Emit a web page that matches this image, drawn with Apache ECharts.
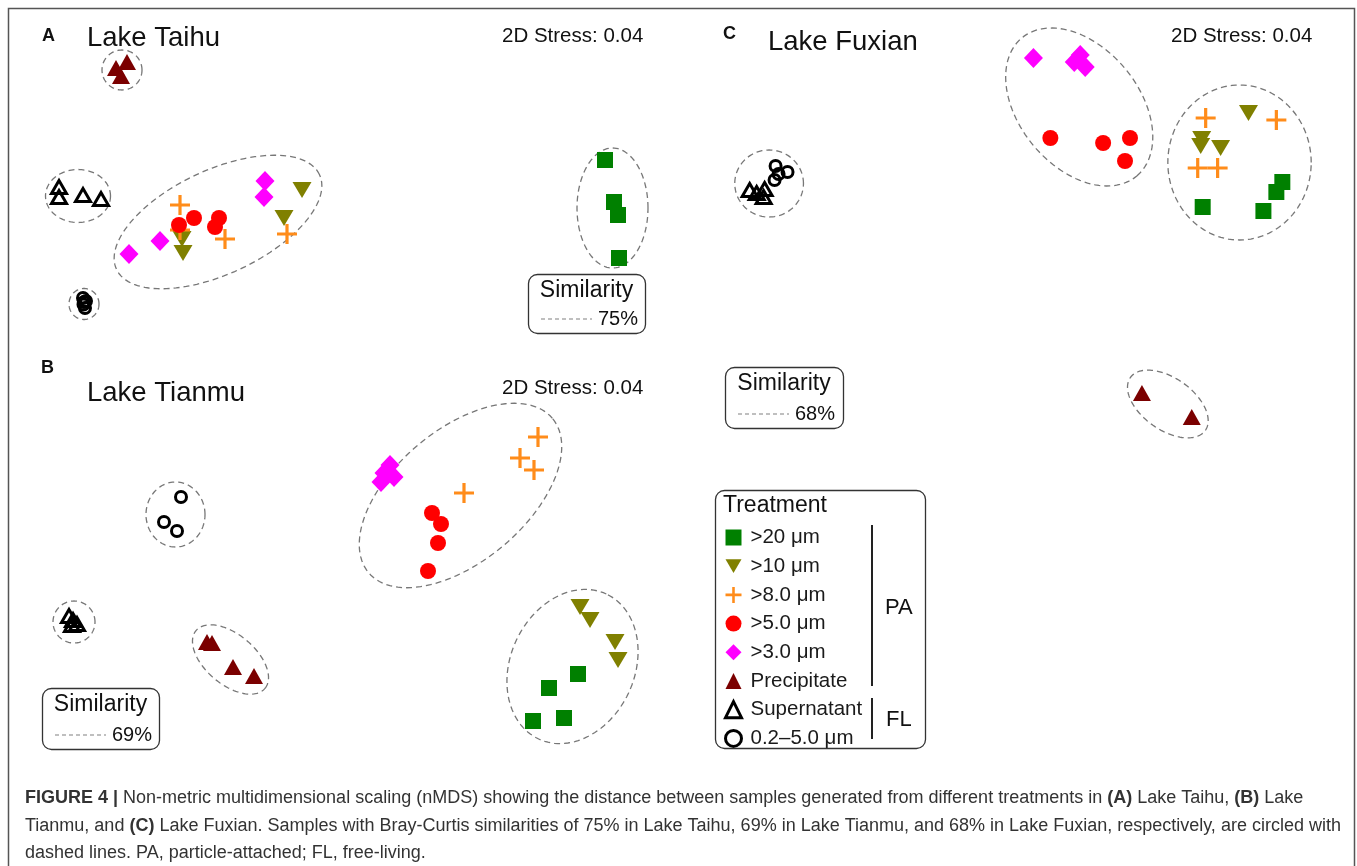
<!DOCTYPE html>
<html><head><meta charset="utf-8">
<script src="https://cdn.jsdelivr.net/npm/echarts@6/dist/echarts.min.js"></script>
<style>html,body{margin:0;padding:0;background:#fff}#c{width:1357px;height:866px}</style>
</head><body><div id="c"></div>
<script>
const treatments = ['>20 μm', '>10 μm', '>8.0 μm', '>5.0 μm', '>3.0 μm', 'Precipitate', 'Supernatant', '0.2–5.0 μm'];

// (A) Lake Taihu — nMDS coordinates [NMDS1, NMDS2]
const taihu_20  = [[2.65, 0.10], [2.74, -0.32], [2.78, -0.45], [2.79, -0.88]];
const taihu_10  = [[-0.38, -0.20], [-0.56, -0.48], [-1.58, -0.69], [-1.57, -0.83]];
const taihu_8   = [[-1.60, -0.35], [-1.60, -0.60], [-1.15, -0.69], [-0.53, -0.64]];
const taihu_5   = [[-1.61, -0.55], [-1.46, -0.48], [-1.21, -0.48], [-1.25, -0.57]];
const taihu_3   = [[-2.11, -0.84], [-1.80, -0.71], [-0.75, -0.11], [-0.76, -0.27]];
const taihu_pre = [[-2.24, 1.02], [-2.13, 1.08], [-2.19, 0.94]];
const taihu_sup = [[-2.81, -0.17], [-2.81, -0.27], [-2.57, -0.25], [-2.39, -0.29]];
const taihu_fl  = [[-2.57, -1.28], [-2.54, -1.31], [-2.565, -1.345], [-2.55, -1.38], [-2.56, -1.32]];
// similarity envelopes [cx, cy, semi-axis a, semi-axis b, angle deg]
const taihu_ellipses = [[-2.18, 1.00, 0.20, 0.20, 0], [-2.62, -0.26, 0.325, 0.265, 0], [-2.56, -1.34, 0.15, 0.155, 0], [-1.22, -0.52, 1.12, 0.52, 25], [2.725, -0.38, 0.355, 0.60, 0]];

// (B) Lake Tianmu
const tianmu_20  = [[2.38, -1.24], [2.09, -1.38], [2.24, -1.68], [1.93, -1.71]];
const tianmu_10  = [[2.40, -0.57], [2.50, -0.70], [2.75, -0.92], [2.78, -1.10]];
const tianmu_8   = [[1.98, 1.13], [1.80, 0.92], [1.94, 0.80], [1.24, 0.57]];
const tianmu_5   = [[0.92, 0.37], [1.01, 0.26], [0.98, 0.07], [0.88, -0.21]];
const tianmu_3   = [[0.50, 0.85], [0.44, 0.77], [0.54, 0.73], [0.41, 0.68]];
const tianmu_pre = [[-1.33, -0.92], [-1.28, -0.93], [-1.07, -1.17], [-0.86, -1.26]];
const tianmu_sup = [[-2.71, -0.66], [-2.67, -0.70], [-2.63, -0.74], [-2.68, -0.75]];
const tianmu_fl  = [[-1.59, 0.53], [-1.76, 0.28], [-1.63, 0.19]];
const tianmu_ellipses = [[-1.645, 0.355, 0.295, 0.325, 0], [-2.66, -0.72, 0.21, 0.21, 0], [-1.095, -1.095, 0.45, 0.25, -40], [1.205, 0.545, 1.20, 0.66, 40], [2.325, -1.165, 0.80, 0.62, 65]];

// (C) Lake Fuxian
const fuxian_20  = [[2.65, 1.98], [2.59, 1.88], [1.85, 1.73], [2.46, 1.69]];
const fuxian_10  = [[2.31, 2.67], [1.84, 2.41], [1.83, 2.34], [2.03, 2.32]];
const fuxian_8   = [[1.88, 2.62], [2.59, 2.60], [1.80, 2.12], [2.00, 2.12]];
const fuxian_5   = [[0.32, 2.42], [0.85, 2.37], [1.12, 2.42], [1.07, 2.19]];
const fuxian_3   = [[0.15, 3.22], [0.62, 3.25], [0.56, 3.18], [0.67, 3.13]];
const fuxian_pre = [[1.24, -0.13], [1.74, -0.37]];
const fuxian_sup = [[-2.70, 1.90], [-2.63, 1.87], [-2.55, 1.91], [-2.56, 1.83]];
const fuxian_fl  = [[-2.44, 2.14], [-2.41, 2.06], [-2.32, 2.08], [-2.45, 2.00]];
const fuxian_ellipses = [[0.61, 2.73, 0.90, 0.60, -50], [2.22, 2.175, 0.72, 0.775, 0], [-2.505, 1.965, 0.345, 0.335, 0], [1.50, -0.24, 0.46, 0.26, -35]];

const lakes = [
  { sets: [taihu_20, taihu_10, taihu_8, taihu_5, taihu_3, taihu_pre, taihu_sup, taihu_fl], ellipses: taihu_ellipses },
  { sets: [tianmu_20, tianmu_10, tianmu_8, tianmu_5, tianmu_3, tianmu_pre, tianmu_sup, tianmu_fl], ellipses: tianmu_ellipses },
  { sets: [fuxian_20, fuxian_10, fuxian_8, fuxian_5, fuxian_3, fuxian_pre, fuxian_sup, fuxian_fl], ellipses: fuxian_ellipses }
];

const FONT = '"Liberation Sans", Arial, Helvetica, sans-serif';
const PLUS = 'path://M-1.6,-10L1.6,-10L1.6,-1.6L10,-1.6L10,1.6L1.6,1.6L1.6,10L-1.6,10L-1.6,1.6L-10,1.6L-10,-1.6L-1.6,-1.6Z';
const DOWN = 'path://M0,0L20,0L10,17.3Z';
const styles = [
  { symbol: 'rect', size: [16, 16], item: { color: '#008000' } },
  { symbol: DOWN, size: [19, 16], item: { color: '#808000' } },
  { symbol: PLUS, size: [20, 20], item: { color: '#FF8C1A' } },
  { symbol: 'circle', size: 16, item: { color: '#FF0000' } },
  { symbol: 'diamond', size: [19, 20], item: { color: '#FF00FF' } },
  { symbol: 'triangle', size: [18, 16], item: { color: '#7B0000' } },
  { symbol: 'triangle', size: [15, 13], item: { color: 'rgba(0,0,0,0)', borderColor: '#000', borderWidth: 3 } },
  { symbol: 'circle', size: 11, item: { color: 'rgba(0,0,0,0)', borderColor: '#000', borderWidth: 3 } }
];

const series = [];
lakes.forEach((lake, gi) => {
  series.push({
    type: 'custom', name: 'envelope' + gi, xAxisIndex: gi, yAxisIndex: gi,
    coordinateSystem: 'cartesian2d', silent: true, z: 1,
    dimensions: ['x', 'y', 'a', 'b', 'ang'], encode: { x: 0, y: 1 },
    data: lake.ellipses,
    renderItem: function (params, api) {
      const cx = api.value(0), cy = api.value(1), a = api.value(2), b = api.value(3), th = api.value(4) * Math.PI / 180;
      const pts = [];
      for (let i = 0; i < 120; i++) {
        const t = i / 120 * Math.PI * 2;
        const x = cx + a * Math.cos(t) * Math.cos(th) - b * Math.sin(t) * Math.sin(th);
        const y = cy + a * Math.cos(t) * Math.sin(th) + b * Math.sin(t) * Math.cos(th);
        pts.push(api.coord([x, y]));
      }
      return { type: 'polygon', shape: { points: pts }, style: { fill: 'none', stroke: '#777', lineWidth: 1.3, lineDash: [6, 4] } };
    }
  });
  lake.sets.forEach((d, ti) => {
    const s = styles[ti];
    series.push({
      type: 'scatter', name: treatments[ti], xAxisIndex: gi, yAxisIndex: gi,
      data: d, symbol: s.symbol, symbolSize: s.size, symbolKeepAspect: false,
      itemStyle: Object.assign({ opacity: 1 }, s.item), z: 3, silent: true,
      emphasis: { disabled: true }
    });
  });
});

function txt(x, y, text, size, extra) {
  return { type: 'text', x: x, y: y, silent: true, z: 10,
    style: Object.assign({ text: text, fontSize: size, fontFamily: FONT, fill: '#111', verticalAlign: 'middle', align: 'left' }, extra || {}) };
}
function simBox(x, y, w, h, pct) {
  return [
    { type: 'rect', silent: true, z: 10, shape: { x: x + 0.5, y: y + 0.5, width: w, height: h, r: 9 }, style: { fill: 'none', stroke: '#333', lineWidth: 1.3 } },
    txt(x + w / 2, y + 17, 'Similarity', 23, { align: 'center' }),
    { type: 'line', silent: true, z: 10, shape: { x1: x + 13, y1: y + h - 14, x2: x + 64, y2: y + h - 14 }, style: { stroke: '#808080', lineWidth: 1.2, lineDash: [4, 3] } },
    txt(x + 70, y + h - 14, pct, 20)
  ];
}
const capRich = {
  b: { fontSize: 18, fontWeight: 'bold', fontFamily: FONT, fill: '#333' },
  n: { fontSize: 18, fontFamily: FONT, fill: '#333' }
};

const graphics = [
  { type: 'rect', silent: true, z: 10, shape: { x: 8.5, y: 8.5, width: 1346, height: 900 }, style: { fill: 'none', stroke: '#555', lineWidth: 1.5 } },
  txt(42, 36, 'A', 18, { fontWeight: 'bold' }),
  txt(87, 38, 'Lake Taihu', 27.5),
  txt(502, 36, '2D Stress: 0.04', 20.5),
  txt(41, 368, 'B', 18, { fontWeight: 'bold' }),
  txt(87, 393, 'Lake Tianmu', 27.5),
  txt(502, 388, '2D Stress: 0.04', 20.5),
  txt(723, 34, 'C', 18, { fontWeight: 'bold' }),
  txt(768, 42, 'Lake Fuxian', 27.5),
  txt(1171, 36, '2D Stress: 0.04', 20.5),
  ...simBox(528, 274, 117, 59, '75%'),
  ...simBox(42, 688, 117, 61, '69%'),
  ...simBox(725, 367, 118, 61, '68%'),
  { type: 'rect', silent: true, z: 10, shape: { x: 715.5, y: 490.5, width: 210, height: 258, r: 9 }, style: { fill: 'none', stroke: '#333', lineWidth: 1.3 } },
  txt(723, 506, 'Treatment', 23),
  { type: 'line', silent: true, z: 10, shape: { x1: 872, y1: 525, x2: 872, y2: 686 }, style: { stroke: '#222', lineWidth: 2 } },
  txt(885, 608, 'PA', 22),
  { type: 'line', silent: true, z: 10, shape: { x1: 872, y1: 698, x2: 872, y2: 739 }, style: { stroke: '#222', lineWidth: 2 } },
  txt(886, 720, 'FL', 22),
  { type: 'text', x: 25, y: 798, silent: true, z: 10, style: { text: '{b|FIGURE 4 |}{n| Non-metric multidimensional scaling (nMDS) showing the distance between samples generated from different treatments in }{b|(A)}{n| Lake Taihu, }{b|(B)}{n| Lake}', verticalAlign: 'middle', rich: capRich } },
  { type: 'text', x: 25, y: 826, silent: true, z: 10, style: { text: '{n|Tianmu, and }{b|(C)}{n| Lake Fuxian. Samples with Bray-Curtis similarities of 75% in Lake Taihu, 69% in Lake Tianmu, and 68% in Lake Fuxian, respectively, are circled with}', verticalAlign: 'middle', rich: capRich } },
  { type: 'text', x: 25, y: 853, silent: true, z: 10, style: { text: '{n|dashed lines. PA, particle-attached; FL, free-living.}', verticalAlign: 'middle', rich: capRich } }
];

const chart = echarts.init(document.getElementById('c'), null, { renderer: 'canvas' });
const axisOff = { type: 'value', show: false, splitLine: { show: false } };
chart.setOption({
  animation: false,
  backgroundColor: '#fff',
  grid: [
    { left: 0, top: 0, width: 680, height: 340 },
    { left: 0, top: 340, width: 680, height: 420 },
    { left: 680, top: 0, width: 680, height: 760 }
  ],
  xAxis: [
    Object.assign({ gridIndex: 0, min: -3.4, max: 3.4 }, axisOff),
    Object.assign({ gridIndex: 1, min: -3.4, max: 3.4 }, axisOff),
    Object.assign({ gridIndex: 2, min: -3.4, max: 3.4 }, axisOff)
  ],
  yAxis: [
    Object.assign({ gridIndex: 0, min: -1.7, max: 1.7 }, axisOff),
    Object.assign({ gridIndex: 1, min: -2.1, max: 2.1 }, axisOff),
    Object.assign({ gridIndex: 2, min: -3.8, max: 3.8 }, axisOff)
  ],
  legend: {
    orient: 'vertical', left: 724, top: 527, itemWidth: 16, itemHeight: 16, itemGap: 7.7,
    selectedMode: false, padding: 0,
    textStyle: { fontSize: 20.5, color: '#1a1a1a', fontFamily: FONT, padding: [0, 0, 0, 4] },
    data: treatments.map((n, i) => i >= 6 ? { name: n, itemStyle: { borderWidth: 3 } } : { name: n })
  },
  graphic: graphics,
  series: series
});
</script></body></html>
